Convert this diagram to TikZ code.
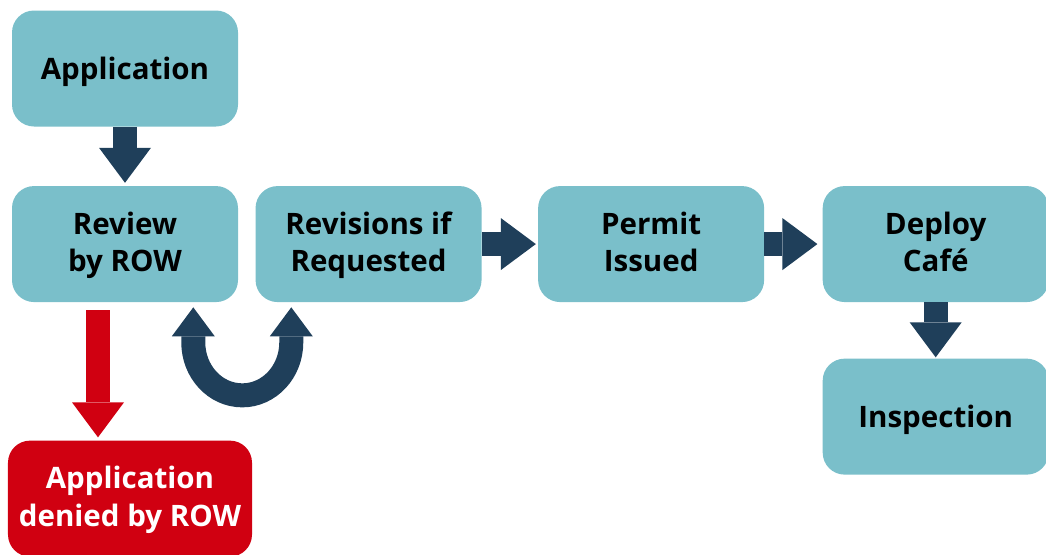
\documentclass[tikz,border=0pt]{standalone}
\usepackage{fontspec}
\setmainfont{Open Sans}
\usetikzlibrary{arrows.meta,positioning}
\definecolor{colbox}{RGB}{122,191,202}
\definecolor{colarrow}{RGB}{31,63,90}
\definecolor{colred}{RGB}{208,0,17}
\newcommand\topstrut{\rule{0pt}{23.5pt}}
\tikzstyle{stage}=[fill=colbox, rounded corners=0.55cm, minimum width=5.65cm, minimum height=2.9cm, inner sep=0pt, align=center, font=\bfseries\fontsize{21}{26.5}\selectfont, execute at begin node=\topstrut, execute at end node=\strut]
\tikzstyle{pair}=[text height=45pt, text depth=6pt]
\tikzstyle{denial}=[stage, pair, fill=colred, text=white, minimum width=6.1cm]
\tikzstyle{flow}=[draw=colarrow, line width=0.6cm, -{Triangle[width=1.3cm,length=0.875cm,line width=0pt]}]
\tikzstyle{reject}=[flow, draw=colred]
\begin{document}
\begin{tikzpicture}
    \useasboundingbox (0,0) rectangle (26.15,-13.85);
    \node [stage] (app) at (3.125,-1.7125) {Application};
    \node [stage, pair] (review) [below=1.475cm of app] {Review\\by ROW};
    \node [stage, pair] (revis) [right=0.425cm of review] {Revisions if\\Requested};
    \node [stage, pair] (permit) [right=1.4cm of revis] {Permit\\Issued};
    \node [stage, pair] (deploy) [right=1.45cm of permit] {Deploy\\Café};
    \node [stage] (inspect) [below=1.4cm of deploy] {Inspection};
    \node [denial] (denied) [below=3.45cm of review, xshift=0.125cm] {Application\\denied by ROW};
    \coordinate (loopl) at ([xshift=-1.125cm,yshift=-0.125cm]review.south east);
    \coordinate (loopr) at ([xshift=0.9cm,yshift=-0.125cm]revis.south west);
    \draw [flow, shorten >=0.075cm] (app) -- (review);
    \draw [flow, shorten >=0.05cm] (revis) -- (permit);
    \draw [flow, shorten >=0.125cm] (permit) -- (deploy);
    \draw [flow, shorten >=0.025cm] (deploy) -- (inspect);
    \draw [reject, shorten >=0.075cm] ([xshift=-0.675cm,yshift=-0.2cm]review.south) -- ([xshift=-0.675cm]review.south |- denied.north);
    \draw [flow, {Triangle[width=1.075cm,length=0.725cm,line width=0pt]}-{Triangle[width=1.075cm,length=0.725cm,line width=0pt]}]
        (loopl) -- ++(0,-0.875) arc[start angle=180, end angle=360, x radius=1.225cm, y radius=1.325cm] -- (loopr);
\end{tikzpicture}
\end{document}
